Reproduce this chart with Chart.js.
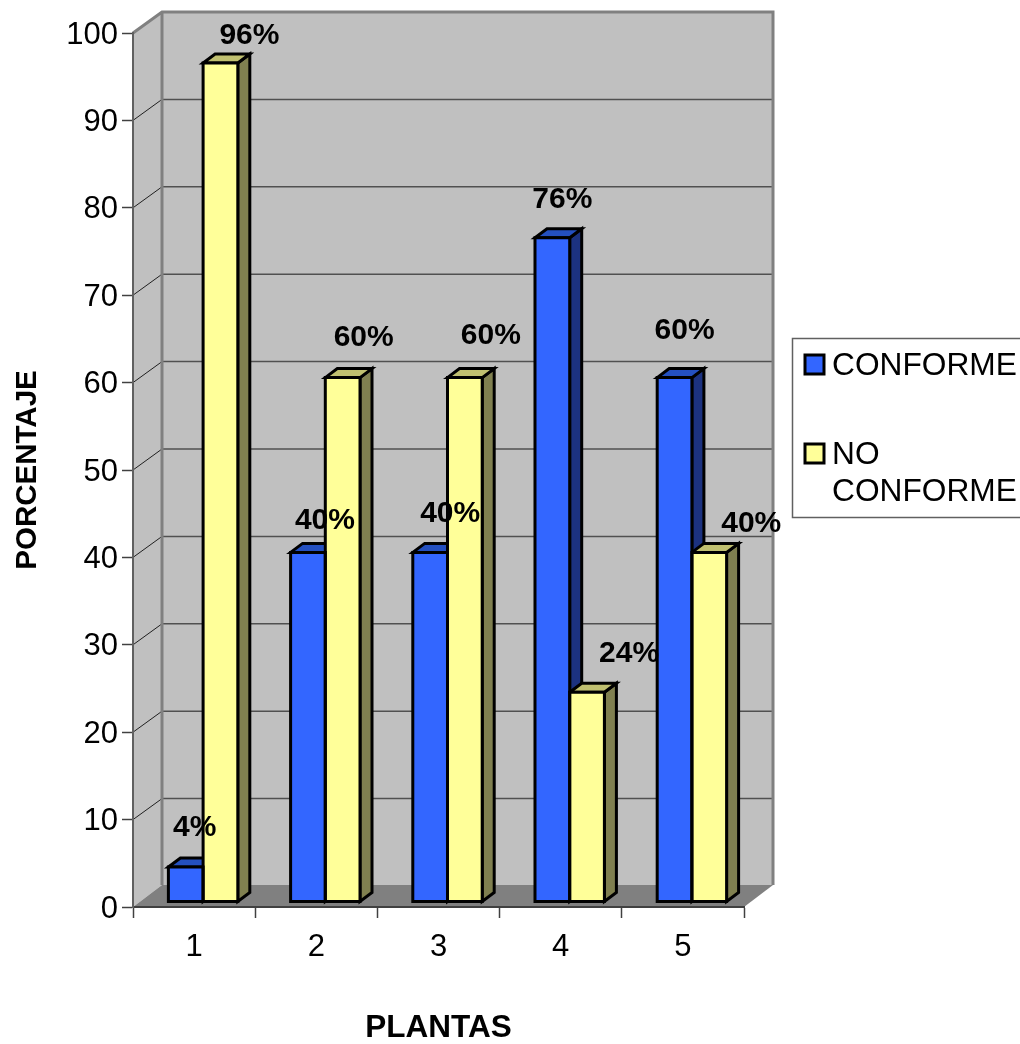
<!DOCTYPE html>
<html>
<head>
<meta charset="utf-8">
<title>Plantas</title>
<script src="https://cdn.jsdelivr.net/npm/chart.js@4/dist/chart.umd.min.js"></script>
<style>
    html, body { margin: 0; padding: 0; background: #fff; overflow: hidden; }
    canvas { display: block; }
</style>
</head>
<body>
<canvas id="plantasChart" width="1020" height="1044"></canvas>
<script>
const plantas = ["1", "2", "3", "4", "5"];
const conforme = [4, 40, 40, 76, 60];
const noConforme = [96, 60, 60, 24, 40];
const seriesNames = ["CONFORME", "NO CONFORME"];

// percent labels are hand placed around each bar top, as [dx, dy] from the bar
const labelOffsets = [
    [[18, -44], [26, -37], [29, -44], [19, -43], [19, -52]],
    [[38, -32], [30, -45], [35, -47], [51, -44], [51, -34]]
];

const FONT = '"Liberation Sans", Arial, sans-serif';
const DEPTH_X = 29, DEPTH_Y = 21;        // walls
const FLOOR_DEPTH_Y = 22;
const BAR_DX = 12, BAR_DY = 9;           // bar extrusion
const BAR_SHIFT_X = 9, BAR_SHIFT_Y = -5; // bars stand in the middle of the floor

const faceColors = [
    { front: "#3366ff", top: "#2450c0", side: "#1c3280" },
    { front: "#ffff99", top: "#c0c070", side: "#808050" }
];

function poly(ctx, pts, fill, stroke, width) {
    ctx.beginPath();
    pts.forEach((p, i) => i ? ctx.lineTo(p[0], p[1]) : ctx.moveTo(p[0], p[1]));
    ctx.closePath();
    if (fill) { ctx.fillStyle = fill; ctx.fill(); }
    if (stroke) { ctx.strokeStyle = stroke; ctx.lineWidth = width; ctx.lineJoin = "miter"; ctx.stroke(); }
}

// side wall, back wall, floor and the gridlines on them
const walls = {
    id: "walls",
    beforeDraw(chart) {
        const { ctx, chartArea: a, scales } = chart;
        const y = scales.y;
        const floorY = a.bottom - FLOOR_DEPTH_Y;

        // the y tick numbers sit a little below the tick marks
        if (!y.labelsNudged) {
            y.getLabelItems().forEach(item => { item.options.translation[1] += 2; });
            y.labelsNudged = true;
        }

        ctx.save();
        poly(ctx, [[a.left, a.bottom], [a.left, a.top], [a.left + DEPTH_X, a.top - DEPTH_Y], [a.left + DEPTH_X, floorY]], "#c0c0c0");
        poly(ctx, [[a.left + DEPTH_X, floorY], [a.left + DEPTH_X, a.top - DEPTH_Y], [a.right + DEPTH_X, a.top - DEPTH_Y], [a.right + DEPTH_X, floorY]], "#c0c0c0");
        poly(ctx, [[a.left, a.bottom], [a.left + DEPTH_X, floorY], [a.right + DEPTH_X, floorY], [a.right, a.bottom]], "#808080");

        y.ticks.forEach(t => {
            if (t.value === 0 || t.value === 100) return;
            const py = y.getPixelForValue(t.value);
            ctx.beginPath();
            ctx.moveTo(a.left, py);
            ctx.lineTo(a.left + DEPTH_X, py - DEPTH_Y);
            ctx.strokeStyle = "#202020";
            ctx.lineWidth = 1;
            ctx.stroke();
            ctx.beginPath();
            ctx.moveTo(a.left + DEPTH_X, py - DEPTH_Y);
            ctx.lineTo(a.right + DEPTH_X, py - DEPTH_Y);
            ctx.strokeStyle = "#505050";
            ctx.lineWidth = 1.5;
            ctx.stroke();
        });

        // wall outline
        ctx.strokeStyle = "#808080";
        ctx.lineWidth = 3;
        ctx.beginPath();
        ctx.moveTo(a.left, a.top);
        ctx.lineTo(a.left + DEPTH_X, a.top - DEPTH_Y);
        ctx.lineTo(a.right + DEPTH_X, a.top - DEPTH_Y);
        ctx.lineTo(a.right + DEPTH_X, floorY);
        ctx.moveTo(a.left + DEPTH_X, a.top - DEPTH_Y);
        ctx.lineTo(a.left + DEPTH_X, floorY);
        ctx.stroke();
        ctx.restore();
    }
};

function barEdges(bar) {
    return { l: bar.x - bar.width / 2, r: bar.x + bar.width / 2, t: bar.y, b: bar.base };
}

// top and side faces behind each bar; the library fills the front faces,
// shifted the same way, and the outlines go on last so they stay centred
const bars3d = {
    id: "bars3d",
    beforeDatasetsDraw(chart) {
        const ctx = chart.ctx;
        ctx.save();
        ctx.translate(BAR_SHIFT_X, BAR_SHIFT_Y);
        chart.data.datasets.forEach((ds, d) => {
            const c = faceColors[d];
            chart.getDatasetMeta(d).data.forEach(bar => {
                const { l, r, t, b } = barEdges(bar);
                poly(ctx, [[r, t], [r + BAR_DX, t - BAR_DY], [r + BAR_DX, b - BAR_DY], [r, b]], c.side, "#000", 3);
                poly(ctx, [[l, t], [l + BAR_DX, t - BAR_DY], [r + BAR_DX, t - BAR_DY], [r, t]], c.top, "#000", 3);
            });
        });
    },
    afterDatasetsDraw(chart) {
        const ctx = chart.ctx;
        chart.data.datasets.forEach((ds, d) => {
            chart.getDatasetMeta(d).data.forEach(bar => {
                const { l, r, t, b } = barEdges(bar);
                poly(ctx, [[l, t], [r, t], [r, b], [l, b]], null, "#000", 3);
            });
        });
        ctx.restore();
    }
};

const percentLabels = {
    id: "percentLabels",
    afterDraw(chart) {
        const ctx = chart.ctx;
        ctx.save();
        ctx.font = "bold 30px " + FONT;
        ctx.fillStyle = "#000";
        ctx.textAlign = "center";
        ctx.textBaseline = "middle";
        chart.data.datasets.forEach((ds, d) => {
            chart.getDatasetMeta(d).data.forEach((bar, i) => {
                const off = labelOffsets[d][i];
                ctx.fillText(ds.data[i] + "%", bar.x + off[0], bar.y + off[1]);
            });
        });
        ctx.restore();
    }
};

const legendBox = {
    id: "legendBox",
    afterDraw(chart) {
        const ctx = chart.ctx;
        const rows = [365, 454];
        ctx.save();
        ctx.fillStyle = "#fff";
        ctx.fillRect(792.5, 338.5, 240, 179);
        ctx.strokeStyle = "#606060";
        ctx.lineWidth = 1.5;
        ctx.strokeRect(792.5, 338.5, 240, 179);
        ctx.font = "31.7px " + FONT;
        ctx.textBaseline = "middle";
        chart.data.datasets.forEach((ds, d) => {
            ctx.fillStyle = faceColors[d].front;
            ctx.strokeStyle = "#000";
            ctx.lineWidth = 3;
            ctx.fillRect(805, rows[d] - 10, 19, 19);
            ctx.strokeRect(805, rows[d] - 10, 19, 19);
            ctx.fillStyle = "#000";
            ds.label.split(" ").forEach((word, n) => ctx.fillText(word, 832, rows[d] + 1.5 + n * 36.5));
        });
        ctx.restore();
    }
};

new Chart(document.getElementById("plantasChart"), {
    type: "bar",
    data: {
        labels: plantas,
        datasets: [
            { label: seriesNames[0], data: conforme, backgroundColor: faceColors[0].front },
            { label: seriesNames[1], data: noConforme, backgroundColor: faceColors[1].front }
        ].map(ds => Object.assign(ds, {
            borderWidth: 0,
            categoryPercentage: 0.568,
            barPercentage: 1,
            clip: false
        }))
    },
    plugins: [walls, bars3d, percentLabels, legendBox],
    options: {
        responsive: false,
        animation: false,
        layout: { padding: { left: 0, right: 276, top: 33, bottom: 0 } },
        plugins: { legend: { display: false }, tooltip: { enabled: false } },
        scales: {
            x: {
                afterFit(scale) { scale.height = 137; },
                grid: { drawOnChartArea: false, offset: true, tickLength: 11, tickColor: "#404040", tickWidth: 1.5 },
                border: { color: "#404040", width: 2 },
                ticks: { color: "#000", font: { family: FONT, size: 31 }, padding: 11, maxRotation: 0 },
                title: {
                    display: true,
                    text: "PLANTAS",
                    color: "#000",
                    font: { family: FONT, size: 31.5, weight: "bold", lineHeight: 1 },
                    padding: { top: 0, bottom: 0 }
                }
            },
            y: {
                min: 0,
                max: 100,
                afterFit(scale) { scale.width = 133; },
                grid: { drawOnChartArea: false, tickLength: 11, tickColor: "#404040", tickWidth: 1.5 },
                border: { color: "#606060", width: 2 },
                ticks: { stepSize: 10, color: "#000", font: { family: FONT, size: 31 }, padding: 4 },
                title: {
                    display: true,
                    text: "PORCENTAJE",
                    color: "#000",
                    font: { family: FONT, size: 29.5, weight: "bold" },
                    padding: { top: 10, bottom: 0 }
                }
            }
        }
    }
});
</script>
</body>
</html>
